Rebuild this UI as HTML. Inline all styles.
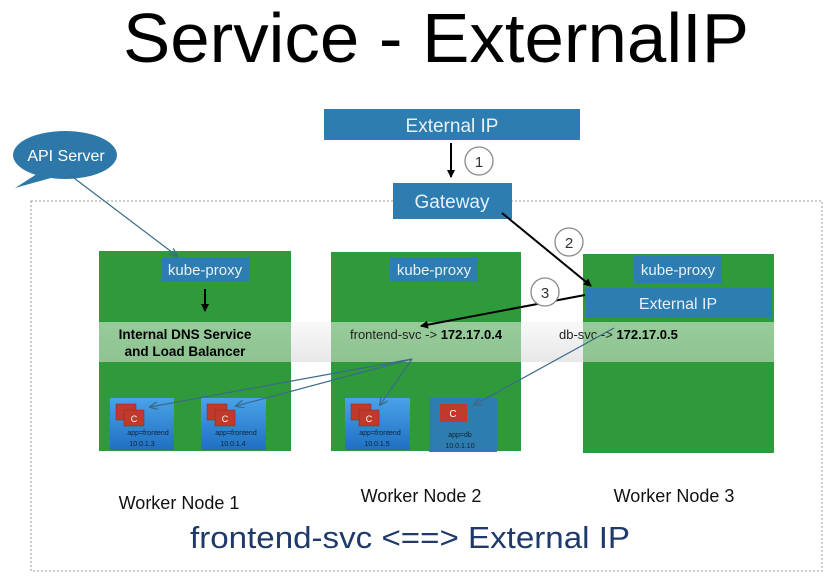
<!DOCTYPE html>
<html><head><meta charset="utf-8"><style>
body{margin:0;background:#fff;}
svg text{font-family:"Liberation Sans",sans-serif;}
</style></head><body>
<svg width="828" height="581" viewBox="0 0 828 581" xmlns="http://www.w3.org/2000/svg">
<defs>
<marker id="ab" markerWidth="8" markerHeight="8" refX="7" refY="4" orient="auto" markerUnits="userSpaceOnUse"><path d="M0,0 L8,4 L0,8 z" fill="#000"/></marker>
<marker id="ag" markerWidth="9" markerHeight="8" refX="8" refY="4" orient="auto" markerUnits="userSpaceOnUse"><path d="M0,0 L9,4 L0,8" fill="none" stroke="#3a6a8a" stroke-width="1.3"/></marker>
<linearGradient id="pod" x1="0" y1="0" x2="0" y2="1"><stop offset="0" stop-color="#4aa3e8"/><stop offset="1" stop-color="#1f6fc2"/></linearGradient>
<linearGradient id="band" x1="0" y1="0" x2="0" y2="1"><stop offset="0" stop-color="#f2f2f2" stop-opacity="0.5"/><stop offset="1" stop-color="#d0d0d0" stop-opacity="0.5"/></linearGradient>
</defs>
<text x="436" y="62" font-size="70" text-anchor="middle" fill="#000" textLength="626" lengthAdjust="spacingAndGlyphs">Service - ExternalIP</text>
<rect x="31" y="201" width="791" height="370" fill="none" stroke="#999" stroke-dasharray="2,2"/>
<path d="M40,172 L15,188 L58,176 Z" fill="#2d78a8"/>
<ellipse cx="65" cy="155" rx="52" ry="24" fill="#2d78a8"/>
<text x="66" y="161" font-size="16" fill="#fff" text-anchor="middle">API Server</text>
<rect x="324" y="109" width="256" height="31" fill="#2d7db0"/>
<text x="452" y="132" font-size="19" fill="#e8f0f8" text-anchor="middle">External IP</text>
<rect x="393" y="183" width="119" height="36" fill="#2d7db0"/>
<text x="452" y="208" font-size="19" fill="#e8f0f8" text-anchor="middle">Gateway</text>
<rect x="99" y="251" width="192" height="200" fill="#2e9a3c"/>
<rect x="331" y="252" width="190" height="199" fill="#2e9a3c"/>
<rect x="583" y="254" width="191" height="199" fill="#2e9a3c"/>
<rect x="99" y="322" width="675" height="40" fill="url(#band)"/>
<rect x="99" y="322" width="192" height="40" fill="#9ccf9c" opacity="0.55"/>
<rect x="331" y="322" width="190" height="40" fill="#9ccf9c" opacity="0.55"/>
<rect x="583" y="322" width="191" height="40" fill="#9ccf9c" opacity="0.55"/>
<rect x="161" y="257" width="88" height="24" fill="#2d7db0"/>
<text x="205" y="275" font-size="15" fill="#e8f0f8" text-anchor="middle">kube-proxy</text>
<rect x="390" y="257" width="88" height="25" fill="#2d7db0"/>
<text x="434" y="275" font-size="15" fill="#e8f0f8" text-anchor="middle">kube-proxy</text>
<rect x="634" y="256" width="88" height="27" fill="#2d7db0"/>
<text x="678" y="275" font-size="15" fill="#e8f0f8" text-anchor="middle">kube-proxy</text>
<rect x="585" y="288" width="187" height="30" fill="#2d7db0"/>
<text x="678" y="309" font-size="16" fill="#e8f0f8" text-anchor="middle">External IP</text>
<text x="185" y="339" font-size="13.5" font-weight="bold" fill="#000" text-anchor="middle">Internal DNS Service</text>
<text x="185" y="356" font-size="13.5" font-weight="bold" fill="#000" text-anchor="middle">and Load Balancer</text>
<text x="350" y="339" font-size="13" fill="#222">frontend-svc -&gt; <tspan font-weight="bold" fill="#000">172.17.0.4</tspan></text>
<text x="559" y="339" font-size="13" fill="#222">db-svc -&gt; <tspan font-weight="bold" fill="#000">172.17.0.5</tspan></text>
<g font-size="7" fill="#123" text-anchor="middle">
<rect x="110" y="398" width="64" height="52" fill="url(#pod)"/>
<rect x="116" y="404" width="20" height="16" fill="#c0392b" stroke="#8a2a1f" stroke-width="0.5"/><rect x="124" y="410" width="20" height="16" fill="#c0392b" stroke="#8a2a1f" stroke-width="0.5"/>
<text x="134" y="422" font-size="9" fill="#fff">C</text>
<text x="148" y="435">app=frontend</text><text x="142" y="446">10.0.1.3</text>
<rect x="201" y="398" width="65" height="52" fill="url(#pod)"/>
<rect x="207" y="404" width="20" height="16" fill="#c0392b" stroke="#8a2a1f" stroke-width="0.5"/><rect x="215" y="410" width="20" height="16" fill="#c0392b" stroke="#8a2a1f" stroke-width="0.5"/>
<text x="225" y="422" font-size="9" fill="#fff">C</text>
<text x="236" y="435">app=frontend</text><text x="233" y="446">10.0.1.4</text>
<rect x="345" y="398" width="65" height="52" fill="url(#pod)"/>
<rect x="351" y="404" width="20" height="16" fill="#c0392b" stroke="#8a2a1f" stroke-width="0.5"/><rect x="359" y="410" width="20" height="16" fill="#c0392b" stroke="#8a2a1f" stroke-width="0.5"/>
<text x="369" y="422" font-size="9" fill="#fff">C</text>
<text x="380" y="435">app=frontend</text><text x="377" y="446">10.0.1.5</text>
<rect x="429" y="398" width="68" height="54" fill="#2d7db0"/>
<rect x="440" y="404" width="27" height="18" fill="#c0392b"/>
<text x="453" y="417" font-size="10" fill="#fff">C</text>
<text x="460" y="437">app=db</text><text x="460" y="448">10.0.1.10</text>
</g>
<g stroke="#3a6a8a" stroke-width="1.2" fill="none" marker-end="url(#ag)">
<line x1="70" y1="175" x2="177" y2="256"/>
<line x1="412" y1="359" x2="150" y2="407"/>
<line x1="412" y1="359" x2="236" y2="406"/>
<line x1="412" y1="359" x2="380" y2="405"/>
<line x1="614" y1="328" x2="474" y2="405"/>
</g>
<g stroke="#000" stroke-width="2" fill="none" marker-end="url(#ab)">
<line x1="451" y1="143" x2="451" y2="177"/>
<line x1="205" y1="289" x2="205" y2="311"/>
<line x1="502" y1="213" x2="591" y2="286"/>
<line x1="585" y1="295" x2="421" y2="326"/>
</g>
<g fill="#fff" stroke="#888" stroke-width="1.3">
<circle cx="479" cy="161" r="14"/><circle cx="569" cy="242" r="14"/><circle cx="545" cy="292" r="14"/>
</g>
<g font-size="15" fill="#333" text-anchor="middle">
<text x="479" y="167">1</text><text x="569" y="248">2</text><text x="545" y="298">3</text>
</g>
<g font-size="18" fill="#111" text-anchor="middle">
<text x="179" y="509">Worker Node 1</text>
<text x="421" y="502">Worker Node 2</text>
<text x="674" y="502">Worker Node 3</text>
</g>
<text x="410" y="548" font-size="31" fill="#1f3a6a" text-anchor="middle" textLength="440" lengthAdjust="spacingAndGlyphs">frontend-svc &lt;==&gt; External IP</text>
</svg>
</body></html>
